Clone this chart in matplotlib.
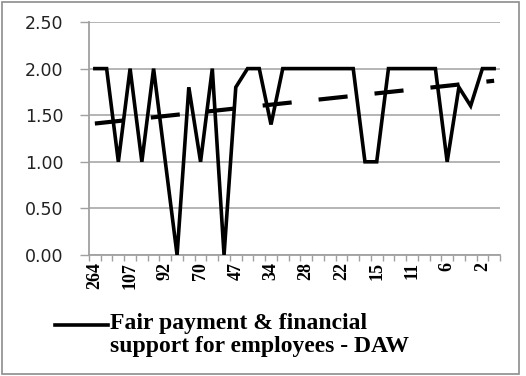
import numpy as np
import matplotlib
matplotlib.use("Agg")
import matplotlib.pyplot as plt
from matplotlib.lines import Line2D
from matplotlib.patches import Rectangle
from matplotlib.ticker import FixedLocator, FormatStrFormatter

# Scores per case (35 cases, ordered by ID descending)
scores = [2.0, 2.0, 1.0, 2.0, 1.0, 2.0, 1.0, 0.0, 1.8, 1.0,
          2.0, 0.0, 1.8, 2.0, 2.0, 1.4, 2.0, 2.0, 2.0, 2.0,
          2.0, 2.0, 2.0, 1.0, 1.0, 2.0, 2.0, 2.0, 2.0, 2.0,
          1.0, 1.8, 1.6, 2.0, 2.0]
# Category labels shown on the axis (every third case)
shown_labels = ["264", "107", "92", "70", "47", "34",
                "28", "22", "15", "11", "6", "2"]
series_name = "Fair payment & financial\nsupport for employees - DAW"

W, H = 526, 376
fig = plt.figure(figsize=(W / 100, H / 100), dpi=100)
ax = fig.add_axes([89 / W, 1 - 255 / H, (500 - 89) / W, (255 - 22) / H])

x = np.arange(len(scores))
ax.plot(x, scores, color="black", lw=2.6, solid_joinstyle="miter", zorder=3)

# Linear trend of the scores
slope, intercept = np.polyfit(x, scores, 1)
trend = Line2D(x[[0, -1]], intercept + slope * x[[0, -1]], color="black",
               lw=3.0, dashes=(7.0, 6.5), solid_capstyle="butt",
               dash_capstyle="butt", zorder=4)
ax.add_line(trend)

ax.set_xlim(-0.5, len(scores) - 0.5)
ax.set_ylim(0, 2.5)
ax.set_yticks(np.arange(0, 2.51, 0.5))
ax.yaxis.set_major_formatter(FormatStrFormatter("%.2f"))
ax.grid(axis="y", color="#a0a0a0", lw=1.1, zorder=0)

ax.set_xticks(np.arange(0, len(scores), 3))
ax.set_xticklabels(shown_labels, rotation=90, family="Liberation Serif",
                   fontweight="bold", fontsize=13)
ax.xaxis.set_minor_locator(FixedLocator(np.arange(-0.5, len(scores), 1)))
ax.tick_params(axis="x", which="major", length=0, pad=5)
ax.tick_params(axis="x", which="minor", length=4, width=1, color="#a0a0a0",
               direction="out")
ax.tick_params(axis="y", length=6.5, width=1, color="#a0a0a0", pad=12,
               labelsize=12.5, labelcolor="#222222")

for s in ("top", "right"):
    ax.spines[s].set_visible(False)
for s in ("left", "bottom"):
    ax.spines[s].set_color("#a0a0a0")
    ax.spines[s].set_linewidth(1.3)

# Legend entry
fig.add_artist(Line2D([55 / W, 108 / W], [1 - 325 / H, 1 - 325 / H],
                      color="black", lw=2.6, transform=fig.transFigure))
fig.text(110 / W, 1 - 313 / H, series_name, family="Liberation Serif",
         fontweight="bold", fontsize=17, va="top", ha="left", linespacing=1.1)

# Chart border
fig.add_artist(Rectangle((2 / W, 2 / H), 517 / W, 372 / H, fill=False,
                         edgecolor="#8c8c8c", lw=1.2,
                         transform=fig.transFigure))

fig.savefig("out.png", dpi=100)
